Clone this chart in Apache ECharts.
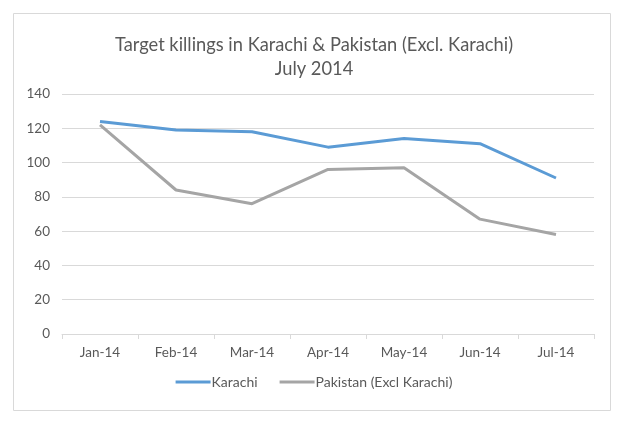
<!DOCTYPE html>
<html>
<head>
<meta charset="utf-8">
<style>
html,body{margin:0;padding:0;background:#fff;}
#chart{width:628px;height:422px;}
</style>
<script src="https://cdn.jsdelivr.net/npm/echarts@6/dist/echarts.min.js"></script>
</head>
<body>
<div id="chart"></div>
<script>
var months = ['Jan-14','Feb-14','Mar-14','Apr-14','May-14','Jun-14','Jul-14'];
var karachi = [124, 119, 118, 109, 114, 111, 91];
var pakistan = [122, 84, 76, 96, 97, 67, 58];
var yTicks = [0, 20, 40, 60, 80, 100, 120, 140];

var chart = echarts.init(document.getElementById('chart'));
var txt = '#595959';
var font = 'Lato, "Open Sans", sans-serif';
var option = {
    animation: false,
    title: {
        text: 'Target killings in Karachi & Pakistan (Excl. Karachi)\nJuly 2014',
        left: 'center',
        top: 28,
        textStyle: {
            color: txt,
            fontFamily: font,
            fontWeight: 'normal',
            fontSize: 18.3,
            lineHeight: 24
        }
    },
    graphic: [{
        type: 'rect',
        shape: { x: 13.5, y: 13.5, width: 597, height: 397 },
        style: { fill: 'none', stroke: '#d9d9d9', lineWidth: 1 },
        silent: true
    }],
    legend: {
        bottom: 28,
        left: 'center',
        itemWidth: 35,
        itemHeight: 3,
        itemGap: 22,
        icon: 'rect',
        textStyle: { color: txt, fontFamily: font, fontSize: 14, padding: [0, 0, 0, -4] },
        data: ['Karachi', 'Pakistan (Excl Karachi)']
    },
    grid: {
        left: 62,
        right: 34,
        top: 94,
        bottom: 88
    },
    xAxis: {
        type: 'category',
        boundaryGap: true,
        data: months,
        axisLine: { lineStyle: { color: '#d9d9d9' } },
        axisTick: { show: true, length: 5, lineStyle: { color: '#d9d9d9' } },
        axisLabel: { color: txt, fontFamily: font, fontSize: 13.5, margin: 12 }
    },
    yAxis: {
        type: 'value',
        min: yTicks[0],
        max: yTicks[yTicks.length - 1],
        interval: 20,
        axisLine: { show: false },
        axisTick: { show: false },
        splitLine: { lineStyle: { color: '#d9d9d9' } },
        axisLabel: { color: txt, fontFamily: font, fontSize: 13.5, margin: 12 }
    },
    series: [
        {
            name: 'Karachi',
            type: 'line',
            data: karachi,
            symbol: 'none',
            lineStyle: { color: '#5B9BD5', width: 3 },
            itemStyle: { color: '#5B9BD5' }
        },
        {
            name: 'Pakistan (Excl Karachi)',
            type: 'line',
            data: pakistan,
            symbol: 'none',
            lineStyle: { color: '#A5A5A5', width: 3 },
            itemStyle: { color: '#A5A5A5' }
        }
    ]
};
chart.setOption(option);
window.addEventListener('resize', function(){
    chart.resize();
});
</script>
</body>
</html>
